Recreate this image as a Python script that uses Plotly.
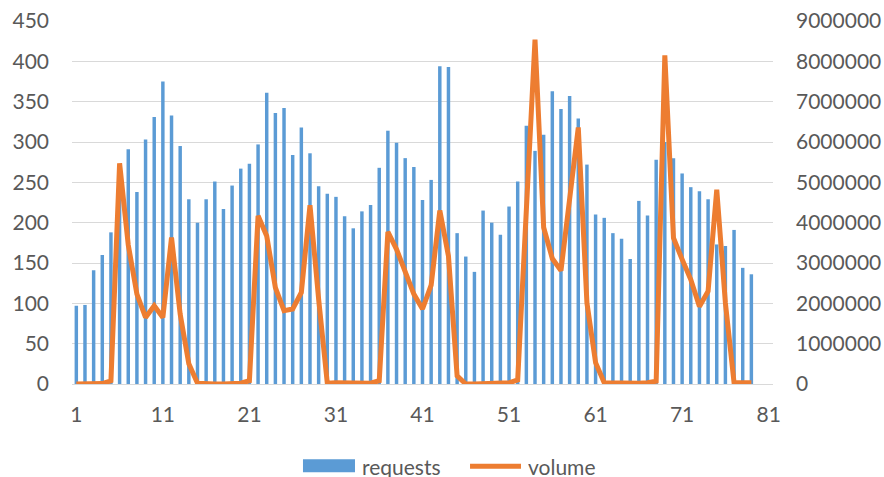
import plotly.graph_objects as go

# Index of each observation (category axis 1..81, data through 79)
index = list(range(1, 80))

requests = [
    97, 98, 141, 160, 188, 255, 291, 238, 303, 331,
    375, 333, 295, 229, 200, 229, 251, 217, 246, 267,
    273, 297, 361, 336, 342, 284, 318, 286, 245, 236,
    232, 208, 193, 214, 222, 268, 314, 299, 280, 269,
    228, 253, 394, 393, 187, 158, 139, 215, 200, 185,
    220, 251, 320, 289, 309, 363, 341, 357, 329, 272,
    210, 206, 187, 180, 155, 227, 209, 278, 300, 280,
    261, 244, 239, 229, 173, 171, 191, 144, 136,
]

volume = [
    0, 0, 0, 10000, 80000, 5470000, 3450000, 2230000, 1650000, 1940000,
    1650000, 3630000, 1730000, 500000, 20000, 0, 0, 0, 0, 20000,
    80000, 4170000, 3670000, 2390000, 1820000, 1860000, 2270000, 4430000, 2100000, 20000,
    30000, 20000, 10000, 10000, 20000, 80000, 3770000, 3340000, 2760000, 2230000,
    1860000, 2450000, 4300000, 3170000, 200000, 0, 0, 0, 0, 10000,
    30000, 100000, 4600000, 8540000, 3880000, 3110000, 2810000, 4500000, 6360000, 2010000,
    530000, 30000, 20000, 20000, 20000, 20000, 30000, 70000, 8150000, 3620000,
    3090000, 2590000, 1920000, 2300000, 4820000, 2010000, 30000, 20000, 30000,
]

series_names = ["requests", "volume"]
x_ticks = [1, 11, 21, 31, 41, 51, 61, 71, 81]
left_ticks = list(range(0, 451, 50))
right_ticks = list(range(0, 9000001, 1000000))

BLUE = "#5B9BD5"
ORANGE = "#ED7D31"
TEXT = "#595959"
GRID = "#D9D9D9"
FONT = "Lato"

fig = go.Figure()
fig.add_trace(go.Bar(
    x=index, y=requests, name=series_names[0],
    marker=dict(color=BLUE, line=dict(width=0)),
    yaxis="y", showlegend=False,
))
fig.add_trace(go.Scatter(
    x=index, y=volume, name=series_names[1], mode="lines",
    line=dict(color=ORANGE, width=5, shape="linear"),
    yaxis="y2", showlegend=False,
))

# Legend drawn below the plot: wide swatch for bars, long stroke for the line
fig.add_shape(type="rect", xref="paper", yref="paper",
              x0=0.3295, x1=0.4037, y0=-0.2431, y1=-0.2072,
              fillcolor=BLUE, line=dict(width=0))
fig.add_shape(type="line", xref="paper", yref="paper",
              x0=0.5678, x1=0.6405, y0=-0.2265, y1=-0.2265,
              line=dict(color=ORANGE, width=5))
fig.add_annotation(text=series_names[0], xref="paper", yref="paper",
                   x=0.4108, y=-0.2265, xanchor="left", yanchor="middle",
                   width=100, height=30, align="left", valign="middle",
                   showarrow=False, font=dict(family=FONT, size=21, color=TEXT))
fig.add_annotation(text=series_names[1], xref="paper", yref="paper",
                   x=0.6476, y=-0.2265, xanchor="left", yanchor="middle",
                   width=90, height=30, align="left", valign="middle",
                   showarrow=False, font=dict(family=FONT, size=21, color=TEXT))

fig.update_layout(
    width=884, height=477,
    margin=dict(l=72, r=111, t=21, b=93),
    paper_bgcolor="white", plot_bgcolor="white",
    font=dict(family=FONT, size=21, color=TEXT),
    bargap=0.6,
    xaxis=dict(
        range=[0.5, 81.5], automargin=False,
        tickmode="array", tickvals=x_ticks, ticktext=[str(v) for v in x_ticks],
        showgrid=False, zeroline=False,
        showline=True, linecolor=GRID, linewidth=1,
        ticks="", ticklabelstandoff=12,
    ),
    yaxis=dict(
        range=[0, 450], automargin=False,
        tickmode="array", tickvals=left_ticks,
        showgrid=True, gridcolor=GRID, gridwidth=1,
        zeroline=False, showline=False, ticks="",
        ticklabelstandoff=22,
    ),
    yaxis2=dict(
        range=[0, 9000000], automargin=False,
        overlaying="y", side="right",
        tickmode="array", tickvals=right_ticks,
        ticktext=[str(v) for v in right_ticks],
        showgrid=False, zeroline=False, showline=False, ticks="",
        ticklabelstandoff=22,
    ),
)

fig.write_html("out.html")
